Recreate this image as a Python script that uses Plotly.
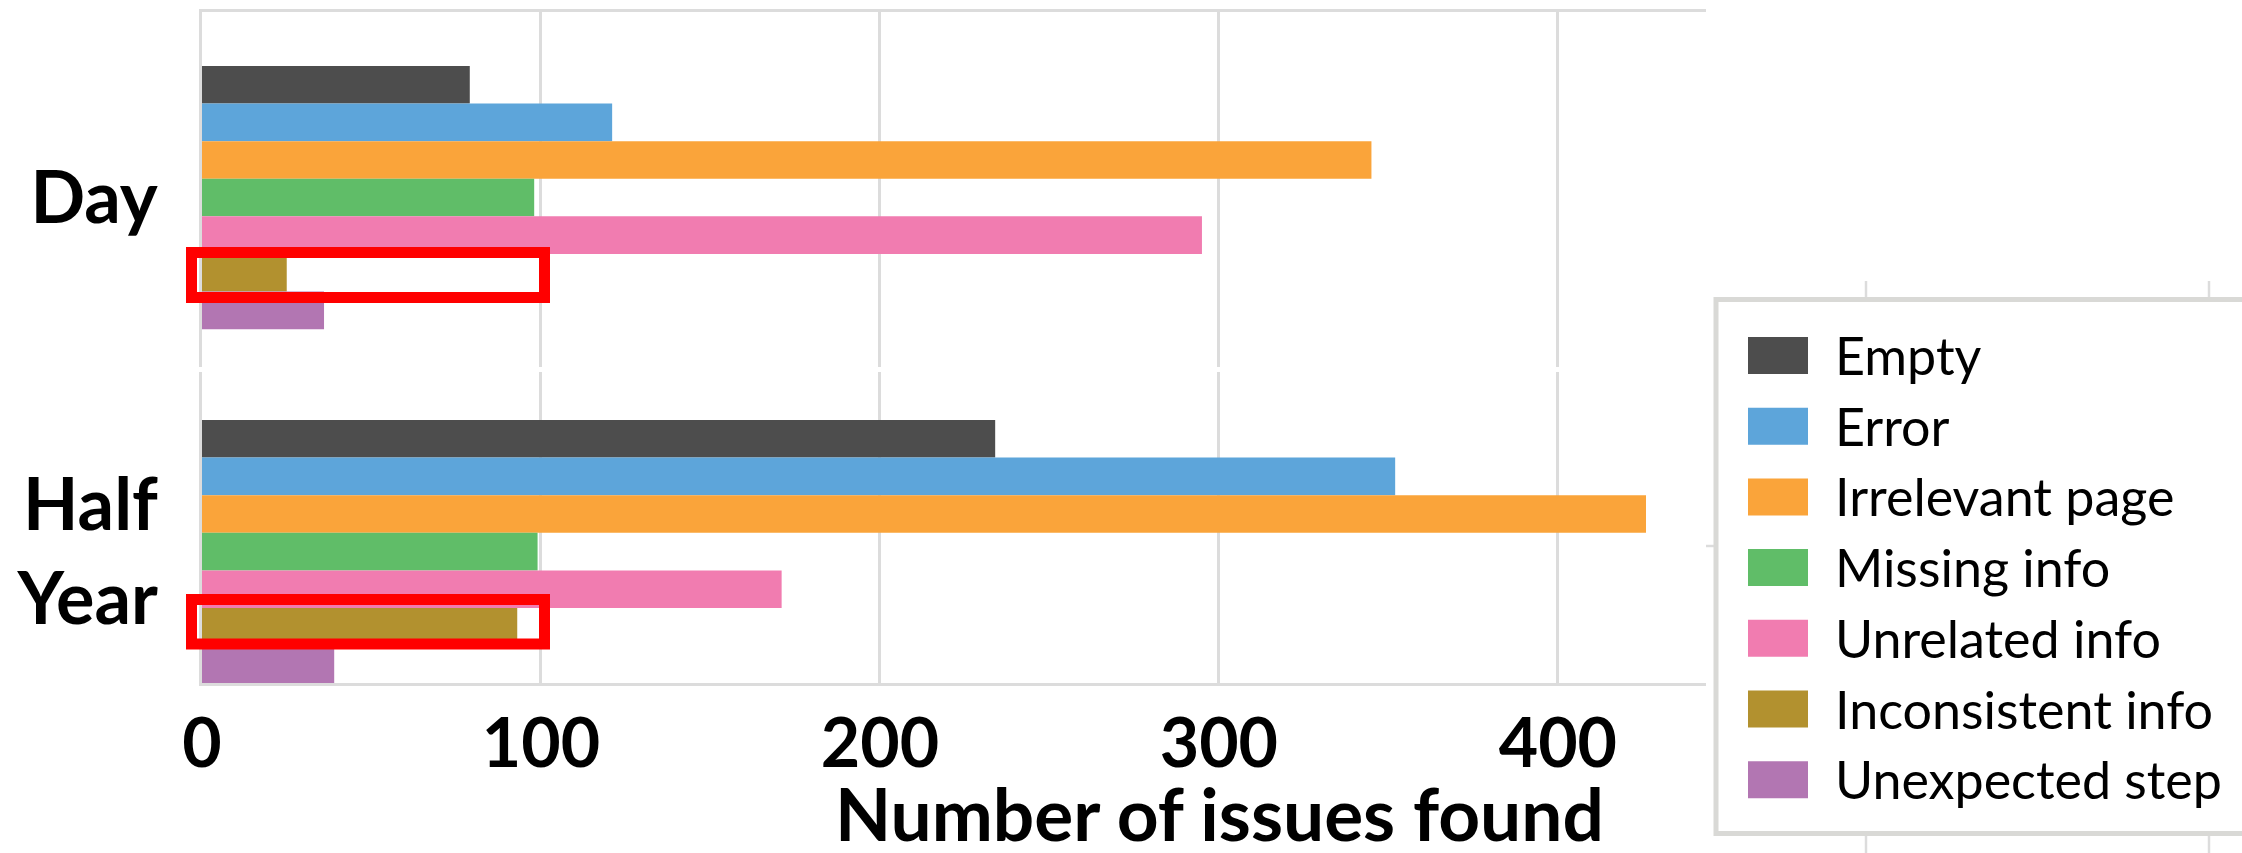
import plotly.graph_objects as go

# ---------------- data ----------------
categories = ["Day", "Half<br>Year"]
series = ["Empty", "Error", "Irrelevant page", "Missing info",
          "Unrelated info", "Inconsistent info", "Unexpected step"]
colors = ["#4d4d4d", "#5da5da", "#faa43a", "#60bd68",
          "#f17cb0", "#b2912f", "#b276b2"]
day_values = [79, 121, 345, 98, 295, 25, 36]
half_year_values = [234, 352, 426, 99, 171, 93, 39]
x_ticks = [0, 100, 200, 300, 400]
x_title = "Number of issues found"

# ---------------- geometry (pixels) ----------------
W, H = 2242, 853
L, R, T, B = 202, 1706, 12, 683          # plot area edges
PW, PH = R - L, B - T


def px(x):
    return (x - L) / PW


def py(y):
    return (B - y) / PH


GRID = "#dcdcdc"
FONT = "Lato"

fig = go.Figure()
for name, col, dv, hv in zip(series, colors, day_values, half_year_values):
    fig.add_trace(go.Bar(
        y=categories, x=[dv, hv], orientation="h", name=name,
        marker=dict(color=col, line=dict(width=0)),
        showlegend=False,
    ))

shapes = []
# gap between the two panels
shapes.append(dict(type="rect", xref="paper", yref="paper",
                   x0=px(194), x1=px(R), y0=py(372), y1=py(367),
                   fillcolor="white", line=dict(width=0), layer="above"))
# red highlight boxes around the "Inconsistent info" bars
for top, bot in [(252.5, 297.5), (599.5, 644)]:
    shapes.append(dict(type="rect", xref="paper", yref="paper",
                       x0=px(191.5), x1=px(544.5), y0=py(bot), y1=py(top),
                       line=dict(color="#ff0000", width=11),
                       fillcolor="rgba(0,0,0,0)", layer="above"))
# fragments of the neighbouring chart
for gx in (1866, 2209):
    for ya, yb in ((281, 297), (836, 860)):
        shapes.append(dict(type="line", xref="paper", yref="paper",
                           x0=px(gx), x1=px(gx), y0=py(ya), y1=py(yb),
                           line=dict(color=GRID, width=2.5)))
shapes.append(dict(type="line", xref="paper", yref="paper",
                   x0=px(R), x1=px(1715), y0=py(546), y1=py(546),
                   line=dict(color=GRID, width=2.5)))

# legend box
shapes.append(dict(type="rect", xref="paper", yref="paper",
                   x0=px(1716), x1=px(2300), y0=py(833.5), y1=py(299.5),
                   fillcolor="white", line=dict(color="#d9d9d6", width=5),
                   layer="above"))
annotations = []
pitch = 70.7
for i, (name, col) in enumerate(zip(series, colors)):
    top = 337 + i * pitch
    shapes.append(dict(type="rect", xref="paper", yref="paper",
                       x0=px(1748), x1=px(1808), y0=py(top + 37), y1=py(top),
                       fillcolor=col, line=dict(width=0), layer="above"))
    annotations.append(dict(xref="paper", yref="paper", x=px(1833),
                            y=py(top + 18), text=name, showarrow=False,
                            xanchor="left", yanchor="middle",
                            font=dict(family=FONT, size=52, color="black")))

annotations.append(dict(xref="paper", yref="paper", x=px(1219), y=py(813),
                        text=x_title, showarrow=False,
                        xanchor="center", yanchor="middle",
                        font=dict(family=FONT, size=73, color="black",
                                  weight="bold")))

fig.update_layout(
    width=W, height=H,
    margin=dict(l=L, r=W - R, t=T, b=H - B, pad=0, autoexpand=False),
    paper_bgcolor="white", plot_bgcolor="white",
    barmode="group", bargap=0.2565, bargroupgap=0,
    shapes=shapes, annotations=annotations,
    showlegend=False,
    font=dict(family=FONT, color="black"),
)
fig.update_xaxes(
    range=[0, 443.7], tickvals=x_ticks, ticktext=[str(v) for v in x_ticks],
    showgrid=True, gridcolor=GRID, gridwidth=2.5,
    showline=True, linecolor=GRID, linewidth=2.5, mirror=True,
    zeroline=False, ticks="", automargin=False,
    tickfont=dict(family=FONT, size=68, color="black", weight="bold"),
)
fig.update_yaxes(
    type="category", categoryorder="array", categoryarray=categories,
    range=[1.371, -0.524],
    showgrid=False, zeroline=False,
    showline=True, linecolor=GRID, linewidth=2.5, mirror=False,
    ticks="", ticklabelstandoff=27, automargin=False,
    tickfont=dict(family=FONT, size=72, color="black", weight="bold"),
)

fig.write_html("out.html")
